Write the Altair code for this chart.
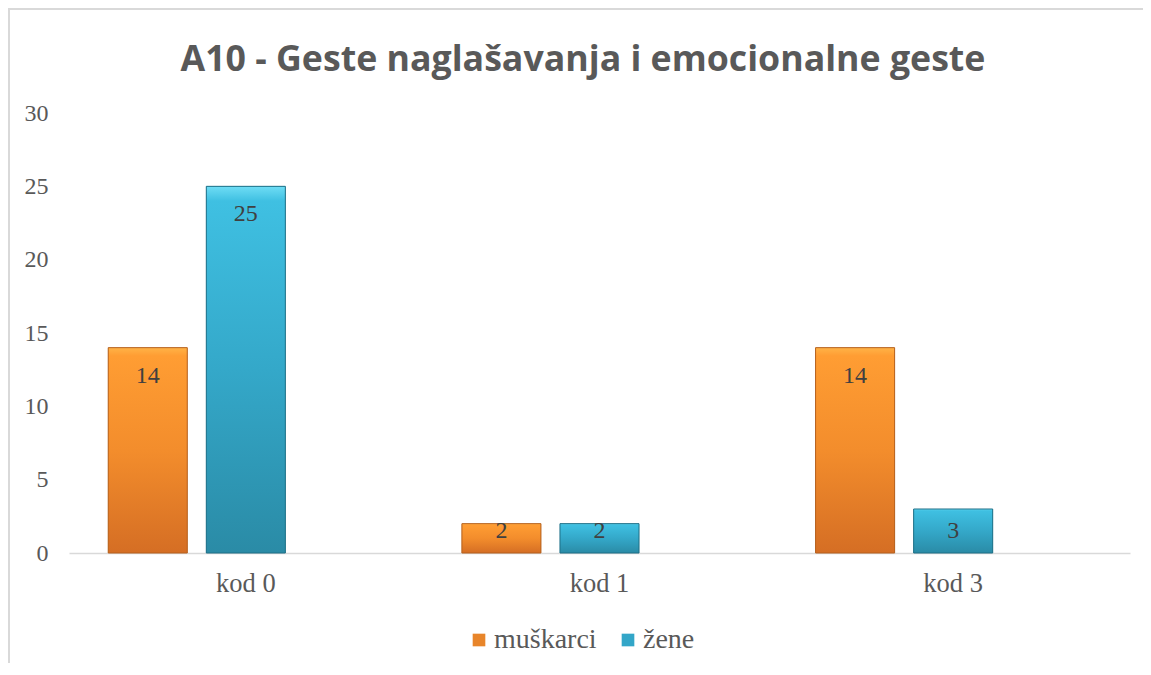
import altair as alt
import pandas as pd

title_text = "A10 - Geste naglašavanja i emocionalne geste"
categories = ["kod 0", "kod 1", "kod 3"]
series = ["muškarci", "žene"]
muskarci = [14, 2, 14]
zene = [25, 2, 3]
y_ticks = [0, 5, 10, 15, 20, 25, 30]

rows = []
for c, m, z in zip(categories, muskarci, zene):
    rows.append({"kat": c, "spol": series[0], "v": m})
    rows.append({"kat": c, "spol": series[1], "v": z})
df = pd.DataFrame(rows)

slots = series + ["_"]
x_enc = alt.X("kat:N", scale=alt.Scale(domain=categories, paddingInner=0, paddingOuter=0),
              axis=alt.Axis(title=None, labelAngle=0, ticks=False, domainColor="#D9D9D9",
                            domainWidth=1.5, labelFont="Liberation Serif", labelFontSize=26.5,
                            labelColor="#595959", labelPadding=17))
xo_enc = alt.XOffset("spol:N", scale=alt.Scale(domain=slots, paddingInner=0.194, paddingOuter=0.40))
y_enc = alt.Y("v:Q", scale=alt.Scale(domain=[0, 30], nice=False),
              axis=alt.Axis(title=None, values=y_ticks, grid=False, domain=False, ticks=False,
                            labelFont="Liberation Serif", labelFontSize=24, labelColor="#595959",
                            labelPadding=21))

base = alt.Chart(df)
one = alt.Chart(pd.DataFrame({"t": [title_text]}))

border_top = one.mark_rule(color="#D9D9D9", strokeWidth=2).encode(
    x=alt.value(-61), x2=alt.value(1200), y=alt.value(-104))
border_left = one.mark_rule(color="#D9D9D9", strokeWidth=2).encode(
    x=alt.value(-60), y=alt.value(-105), y2=alt.value(700))

title = one.mark_text(font="Open Sans", fontSize=35.7, fontWeight="bold", color="#595959",
                      align="center", baseline="middle").encode(
    x=alt.value(514), y=alt.value(-53), text="t:N")

solid = base.mark_bar().encode(
    x=x_enc, xOffset=xo_enc, y=y_enc,
    color=alt.Color("spol:N", scale=alt.Scale(domain=series, range=["#E8852A", "#33A6C8"]),
                    legend=alt.Legend(title=None, orient="none", direction="horizontal",
                                      legendX=396, legendY=513, symbolType="square",
                                      symbolSize=160, symbolStrokeWidth=0,
                                      labelFont="Liberation Serif", labelFontSize=28,
                                      labelColor="#595959", columnPadding=17, labelOffset=1))
)

def grad(stops):
    return alt.LinearGradient(gradient="linear", x1=0, y1=0, x2=0, y2=1,
                              stops=[alt.GradientStop(offset=o, color=c) for o, c in stops])

orange = base.mark_bar(
    fill=grad([(0, "#FFB347"), (0.04, "#FF9D33"), (0.5, "#F38D2C"), (1, "#D56E24")]),
    stroke="#B5611E", strokeWidth=1
).encode(x=x_enc, xOffset=xo_enc, y=y_enc).transform_filter(alt.datum.spol == series[0])

cyan = base.mark_bar(
    fill=grad([(0, "#6FDDF5"), (0.04, "#3FC0E2"), (0.5, "#34A8C9"), (1, "#2A8BA6")]),
    stroke="#1E6F86", strokeWidth=1
).encode(x=x_enc, xOffset=xo_enc, y=y_enc).transform_filter(alt.datum.spol == series[1])

labels = base.mark_text(font="Liberation Serif", fontSize=24, color="#404040",
                        baseline="middle", align="center").encode(
    x=x_enc, xOffset=xo_enc,
    y=alt.Y("ly:Q", scale=alt.Scale(domain=[0, 30], nice=False)),
    text=alt.Text("v:Q")
).transform_calculate(ly="max(datum.v - 1.9, 1.5)")

chart = alt.layer(border_top, border_left, title, solid, orange, cyan, labels).properties(
    width=1061, height=440,
    autosize=alt.AutoSizeParams(type="none"),
    padding={"left": 61, "top": 105, "right": 13, "bottom": 110},
).configure_view(stroke=None)

chart.save("out.html", embed_options={"renderer": "svg", "actions": False})
